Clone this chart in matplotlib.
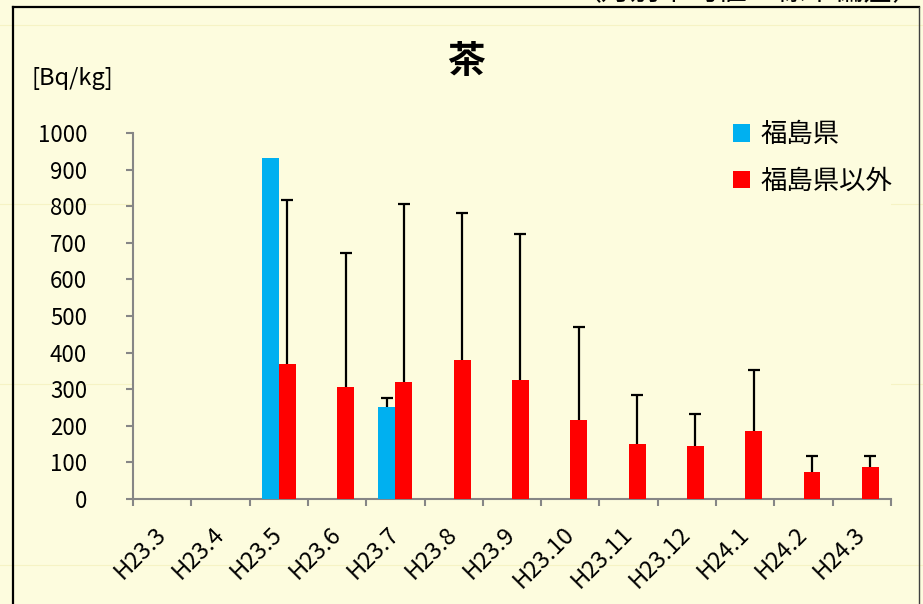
import matplotlib
matplotlib.use("Agg")
import matplotlib.pyplot as plt
from matplotlib.lines import Line2D
import numpy as np

plt.rcParams['font.family'] = ['Noto Sans CJK JP', 'DejaVu Sans']

# data
months = ["H23.3", "H23.4", "H23.5", "H23.6", "H23.7", "H23.8", "H23.9",
          "H23.10", "H23.11", "H23.12", "H24.1", "H24.2", "H24.3"]
fukushima = [np.nan, np.nan, 932, np.nan, 251, np.nan, np.nan,
             np.nan, np.nan, np.nan, np.nan, np.nan, np.nan]
fukushima_sd = [0, 0, 0, 0, 25, 0, 0, 0, 0, 0, 0, 0, 0]
others = [np.nan, np.nan, 369, 306, 320, 380, 325, 216, 150, 145, 186, 74, 87]
others_sd = [0, 0, 448, 366, 486, 401, 399, 254, 134, 87, 166, 43, 30]

bg = '#FDFCDE'
blue = '#00B0F0'
red = '#FF0000'
axis_gray = '#868686'

W, H = 923, 604
fig = plt.figure(figsize=(W / 100, H / 100), dpi=100, facecolor=bg)
ax = fig.add_axes([133 / W, 1 - 499 / H, (891 - 133) / W, (499 - 133) / H])
ax.set_facecolor(bg)

x = np.arange(len(months))
w = 0.29


def bars_with_sd(xpos, vals, sds, color, label):
    vals = np.array(vals, dtype=float)
    sds = np.array(sds, dtype=float)
    m = ~np.isnan(vals) & (vals > 0)
    b = ax.bar(xpos[m], vals[m], w, color=color, label=label, zorder=3)
    # upper error only: line plus cap at the top
    e = m & (sds > 0)
    ax.vlines(xpos[e], vals[e], vals[e] + sds[e], color='black', lw=1.6, zorder=4)
    ax.plot(xpos[e], vals[e] + sds[e], ls='none', marker='_', ms=9, mew=1.6,
            color='black', zorder=4)
    return b


b1 = bars_with_sd(x - w / 2, fukushima, fukushima_sd, blue, "福島県")
b2 = bars_with_sd(x + w / 2, others, others_sd, red, "福島県以外")

ax.set_xlim(-0.5, len(months) - 0.5)
ax.set_ylim(0, 1000)
ax.set_yticks(np.arange(0, 1001, 100))
ax.set_xticks(x)
ax.set_xticklabels(months, rotation=45, ha='right', va='center', rotation_mode='anchor')
ax.set_xticks(np.arange(-0.5, len(months)), minor=True)

for s in ['top', 'right']:
    ax.spines[s].set_visible(False)
for s in ['left', 'bottom']:
    ax.spines[s].set_color(axis_gray)
    ax.spines[s].set_linewidth(1.5)

ax.tick_params(axis='y', length=5, width=1.5, color=axis_gray, labelsize=16, pad=28)
ax.tick_params(axis='x', which='major', length=0, labelsize=17, pad=23)
ax.tick_params(axis='x', which='minor', length=5, width=1.5, color=axis_gray)

ax.legend(handles=[b1, b2], loc='upper left', bbox_to_anchor=(733 / W, 1 - 121 / H),
          bbox_transform=fig.transFigure, frameon=False, fontsize=19,
          handlelength=0.65, handleheight=0.65, handletextpad=0.4,
          labelspacing=0.75, borderpad=0, borderaxespad=0)

fig.text(466 / W, 1 - 61 / H, "茶", fontsize=27, fontweight='bold', ha='center', va='center')
fig.text(32 / W, 1 - 78 / H, "[Bq/kg]", fontsize=17, ha='left', va='center')

# header text cut off at the top, as in the reference
fig.text(922 / W, 1 - 7 / H, "（月別平均値±標準偏差）", fontsize=21, ha='right', va='bottom')

# faint sheet gridlines
for yy in [25, 204, 384, 565]:
    fig.add_artist(Line2D([0, 1], [1 - yy / H] * 2, transform=fig.transFigure,
                          color='#F6F3C4', lw=0.8, zorder=0))

# frame around chart area
fig.add_artist(Line2D([13 / W, 919 / W], [1 - 7 / H] * 2, transform=fig.transFigure, color='black', lw=1.6))
fig.add_artist(Line2D([13 / W, 13 / W], [0, 1 - 7 / H], transform=fig.transFigure, color='black', lw=1.6))
fig.add_artist(Line2D([919 / W, 919 / W], [0, 1 - 7 / H], transform=fig.transFigure, color='#404040', lw=1.0))

fig.savefig("out.png", dpi=100, facecolor=bg)
